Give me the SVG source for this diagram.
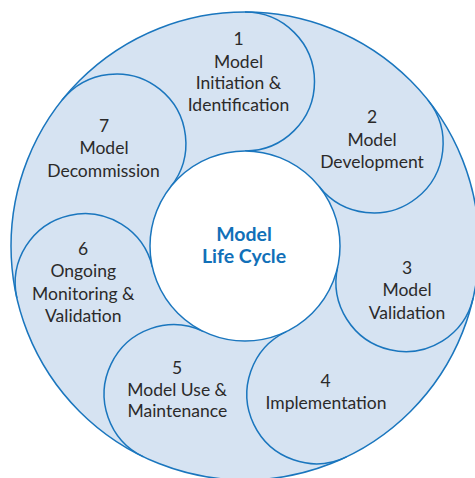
<svg xmlns="http://www.w3.org/2000/svg" width="475" height="478" viewBox="0 0 475 478">
<style>
.ring{fill:#d6e3f2;stroke:#1a76be;stroke-width:1.5}
.hole{fill:#ffffff;stroke:#1a76be;stroke-width:1.5}
.lobe{fill:none;stroke:#1a76be;stroke-width:1.5}
.t{font-family:Lato,"Open Sans",sans-serif;font-size:17.5px;fill:#2b2a2a;text-anchor:middle}
.c{font-family:Lato,"Open Sans",sans-serif;font-size:19.5px;font-weight:bold;fill:#1170b8;text-anchor:middle}
</style>
<rect width="475" height="478" fill="#ffffff"/>
<g id="ring">
<circle class="ring" cx="245" cy="246" r="234"/>
</g>
<g id="segment-1">
<path class="lobe" d="M245,12 A69.5,69.5 0 0 1 245,151"/>
<text class="t" x="238.5" y="45">1</text>
<text class="t" x="238.5" y="67.5">Model</text>
<text class="t" x="238.5" y="89.3">Initiation &amp;</text>
<text class="t" x="238.5" y="110.8">Identification</text>
</g>
<g id="segment-2">
<path class="lobe" d="M427.95,100.1 A69.5,69.5 0 0 1 319.27,186.77"/>
<text class="t" x="372" y="122.5">2</text>
<text class="t" x="372" y="146">Model</text>
<text class="t" x="372" y="167.7">Development</text>
</g>
<g id="segment-3">
<path class="lobe" d="M473.13,298.07 A69.5,69.5 0 0 1 337.62,267.14"/>
<text class="t" x="407" y="274">3</text>
<text class="t" x="407" y="296.3">Model</text>
<text class="t" x="407" y="318.7">Validation</text>
</g>
<g id="segment-4">
<path class="lobe" d="M346.53,456.83 A69.5,69.5 0 0 1 286.22,331.59"/>
<text class="t" x="325.5" y="386.7">4</text>
<text class="t" x="326" y="409.3">Implementation</text>
</g>
<g id="segment-5">
<path class="lobe" d="M143.47,456.83 A69.5,69.5 0 0 1 203.78,331.59"/>
<text class="t" x="177" y="373.7">5</text>
<text class="t" x="177.2" y="395.7">Model Use &amp;</text>
<text class="t" x="177.3" y="417.3">Maintenance</text>
</g>
<g id="segment-6">
<path class="lobe" d="M16.87,298.07 A69.5,69.5 0 0 1 152.38,267.14"/>
<text class="t" x="83" y="255">6</text>
<text class="t" x="83.3" y="277.3">Ongoing</text>
<text class="t" x="83.3" y="300">Monitoring &amp;</text>
<text class="t" x="83.3" y="321.7">Validation</text>
</g>
<g id="segment-7">
<path class="lobe" d="M62.05,100.1 A69.5,69.5 0 0 1 170.73,186.77"/>
<text class="t" x="104" y="132.3">7</text>
<text class="t" x="104" y="154">Model</text>
<text class="t" x="103.5" y="176.7">Decommission</text>
</g>
<g id="center">
<circle class="hole" cx="245" cy="246" r="95"/>
<text class="c" x="244" y="241">Model</text>
<text class="c" x="244" y="263.3">Life Cycle</text>
</g>
<g id="connectors"/>
</svg>
